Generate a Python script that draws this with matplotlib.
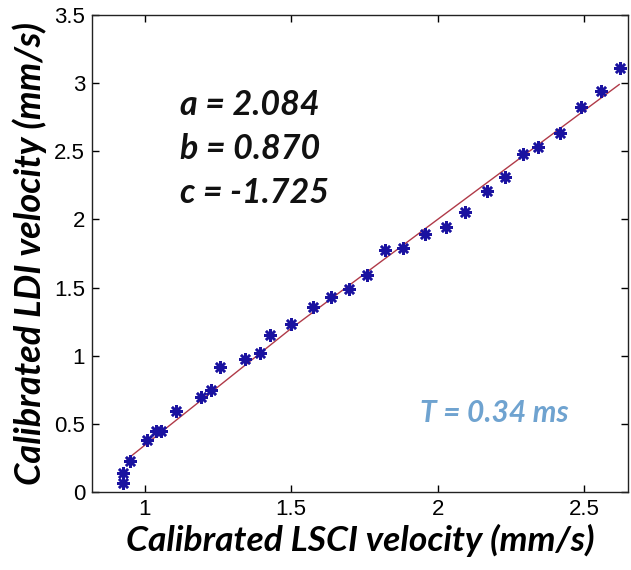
import matplotlib
matplotlib.use("Agg")
import matplotlib.pyplot as plt

# Scatter data (calibrated LSCI velocity vs calibrated LDI velocity)
lsci = [0.926, 0.926, 0.949, 1.008, 1.040, 1.054, 1.108, 1.193, 1.227, 1.256,
        1.341, 1.395, 1.428, 1.500, 1.574, 1.636, 1.697, 1.759, 1.822, 1.883,
        1.956, 2.029, 2.094, 2.167, 2.230, 2.292, 2.343, 2.418, 2.491, 2.559,
        2.622]
ldi = [0.064, 0.137, 0.230, 0.380, 0.450, 0.445, 0.597, 0.700, 0.748, 0.915,
       0.976, 1.018, 1.152, 1.230, 1.360, 1.428, 1.487, 1.592, 1.776, 1.788,
       1.893, 1.947, 2.057, 2.211, 2.314, 2.480, 2.534, 2.636, 2.827, 2.944,
       3.108]

# Fitted curve
fit_x = [0.94, 1.50, 2.00, 2.62]
fit_y = [0.24, 1.20, 2.00, 2.99]

x_ticks = [1, 1.5, 2, 2.5]
x_ticklabels = ["1", "1.5", "2", "2.5"]
y_ticks = [0, 0.5, 1, 1.5, 2, 2.5, 3, 3.5]
y_ticklabels = ["0", "0.5", "1", "1.5", "2", "2.5", "3", "3.5"]

params = ["a = 2.084", "b = 0.870", "c = -1.725"]
t_label = "T = 0.34 ms"

W, H = 631, 570
fig = plt.figure(figsize=(W / 100, H / 100), dpi=100)
ax = fig.add_axes([92 / W, 1 - 492 / H, (628 - 92) / W, (492 - 15) / H])

ax.plot(fit_x, fit_y, color="#b03a48", lw=1.0, zorder=2)
ax.plot(lsci, ldi, ls="none", marker=(8, 2, 0), color="#1a12a0", ms=9, mew=1.8, zorder=3)

ax.set_xlim(0.82, 2.65)
ax.set_ylim(0, 3.5)
ax.set_xticks(x_ticks)
ax.set_xticklabels(x_ticklabels)
ax.set_yticks(y_ticks)
ax.set_yticklabels(y_ticklabels)
ax.tick_params(direction="in", top=True, right=True, length=5, width=1,
               labelsize=16, pad=5)
for lab in ax.get_xticklabels() + ax.get_yticklabels():
    lab.set_fontfamily("Liberation Sans")
for sp in ax.spines.values():
    sp.set_linewidth(1.0)
    sp.set_color("#222222")

lblfont = dict(family="Lato", weight="bold", style="italic")
ax.set_xlabel("Calibrated LSCI velocity (mm/s)", fontsize=25.5, labelpad=3, **lblfont)
ax.set_ylabel("Calibrated LDI velocity (mm/s)", fontsize=26, labelpad=5, **lblfont)

for i, s in enumerate(params):
    fig.text(180 / W, 1 - (115 + 44 * i) / H, s, fontsize=24.5, color="#111111",
             ha="left", va="baseline", **lblfont)
fig.text(420 / W, 1 - 422 / H, t_label, fontsize=21.5, color="#6fa3d0",
         ha="left", va="baseline", **lblfont)

fig.savefig("out.png", dpi=100)
